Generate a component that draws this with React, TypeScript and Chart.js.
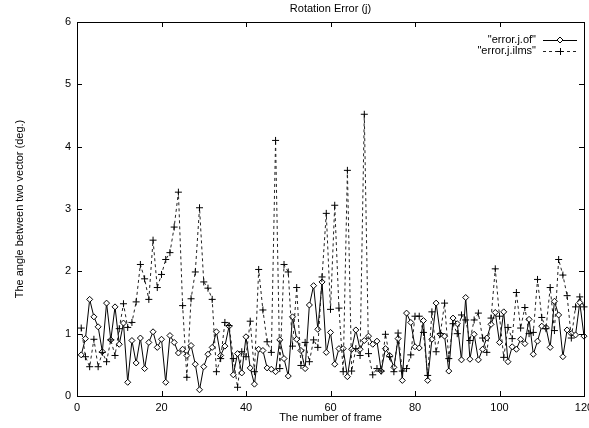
import React, { useEffect, useRef } from "react";
import { Chart, registerables } from "chart.js";

Chart.register(...registerables);

const title = "Rotation Error (j)";
const xTitle = "The number of frame";
const yTitle = "The angle between two vector (deg.)";
const seriesNames = ['"error.j.of"', '"error.j.ilms"'];
const xTicks = [0, 20, 40, 60, 80, 100, 120];
const yTicks = [0, 1, 2, 3, 4, 5, 6];

const errorOf = [
  0.66, 0.92, 1.55, 1.27, 1.11, 0.71, 1.49, 0.90, 1.43, 0.83,
  1.17, 0.22, 0.89, 0.53, 0.93, 0.44, 0.86, 1.03, 0.78, 0.91,
  0.22, 0.97, 0.86, 0.69, 0.75, 0.65, 0.81, 0.51, 0.10, 0.47,
  0.67, 0.78, 1.03, 0.65, 0.80, 1.12, 0.34, 0.68, 0.37, 0.95,
  0.45, 0.19, 0.75, 0.73, 0.45, 0.43, 0.39, 0.90, 0.60, 0.32,
  1.27, 0.91, 0.73, 0.44, 1.46, 1.77, 1.07, 1.83, 0.70, 1.02,
  0.51, 0.76, 0.76, 0.31, 0.75, 1.06, 0.75, 0.89, 0.96, 0.83,
  0.88, 0.40, 0.76, 0.65, 0.46, 0.92, 0.25, 1.33, 1.18, 0.79,
  0.77, 1.21, 0.25, 0.91, 1.49, 0.99, 0.96, 0.40, 1.25, 1.16,
  0.58, 1.58, 0.59, 0.99, 0.58, 0.75, 0.93, 1.15, 1.34, 0.86,
  1.35, 0.55, 0.79, 0.75, 0.91, 0.84, 1.23, 0.67, 0.88, 1.12,
  1.10, 0.78, 1.52, 1.30, 0.63, 1.06, 1.00, 0.98, 1.50, 0.96,
];

const errorIlms = [
  1.09, 0.63, 0.47, 0.91, 0.47, 0.70, 0.55, 0.90, 0.65, 1.08,
  1.48, 1.10, 1.18, 1.51, 2.11, 1.88, 1.55, 2.50, 1.74, 1.95,
  2.19, 2.30, 2.71, 3.27, 1.45, 0.30, 1.56, 1.99, 3.02, 1.83,
  1.73, 1.55, 0.39, 0.60, 1.18, 1.13, 0.60, 0.14, 0.71, 0.63,
  1.20, 0.39, 2.03, 1.38, 0.87, 0.70, 4.10, 0.44, 2.11, 1.99,
  0.80, 1.74, 0.49, 0.86, 0.55, 0.90, 0.78, 1.91, 2.93, 1.39,
  3.06, 1.41, 0.39, 3.62, 0.40, 0.76, 0.65, 4.52, 0.68, 0.34,
  0.44, 0.40, 0.99, 0.63, 0.39, 1.01, 0.40, 0.44, 0.66, 1.28,
  1.28, 1.02, 0.33, 1.35, 0.71, 1.00, 1.49, 0.60, 1.16, 1.00,
  1.30, 1.22, 0.89, 1.22, 1.33, 0.93, 0.70, 1.25, 2.04, 1.28,
  0.62, 1.10, 0.92, 1.66, 1.09, 1.42, 1.00, 1.02, 1.87, 1.26,
  1.08, 1.74, 1.05, 2.19, 1.94, 1.61, 0.93, 1.43, 1.59, 1.43,
];

const frames = errorOf.map((_, i) => i + 1);

const FONT = "11px 'Liberation Sans', Arial, sans-serif";

const decorPlugin = {
  id: "decor",
  afterDraw(chart: any) {
    const { ctx, chartArea, scales } = chart;
    const { left, right, top, bottom } = chartArea;
    const xs = scales.x;
    const ys = scales.y;
    ctx.save();
    ctx.strokeStyle = "#000";
    ctx.lineWidth = 1;
    ctx.setLineDash([]);
    ctx.strokeRect(Math.round(left) + 0.5, Math.round(top) + 0.5, Math.round(right - left), Math.round(bottom - top));
    const tl = 5;
    ctx.beginPath();
    xTicks.forEach((v) => {
      const px = Math.round(xs.getPixelForValue(v)) + 0.5;
      ctx.moveTo(px, bottom);
      ctx.lineTo(px, bottom - tl);
      ctx.moveTo(px, top);
      ctx.lineTo(px, top + tl);
    });
    yTicks.forEach((v) => {
      const py = Math.round(ys.getPixelForValue(v)) + 0.5;
      ctx.moveTo(left, py);
      ctx.lineTo(left + tl, py);
      ctx.moveTo(right, py);
      ctx.lineTo(right - tl, py);
    });
    ctx.stroke();

    ctx.fillStyle = "#000";
    ctx.font = FONT;
    ctx.textBaseline = "middle";
    ctx.textAlign = "center";
    ctx.fillText(title, (left + right) / 2, 9);
    ctx.fillText(xTitle, (left + right) / 2, 418);
    ctx.save();
    ctx.translate(20, (top + bottom) / 2);
    ctx.rotate(-Math.PI / 2);
    ctx.fillText(yTitle, 0, 0);
    ctx.restore();

    // legend
    const textRight = 536;
    const sx0 = 543;
    const sx1 = 577;
    const rows = [40, 51];
    ctx.textAlign = "right";
    seriesNames.forEach((name, i) => {
      const y = rows[i];
      ctx.fillText(name, textRight, y);
      ctx.beginPath();
      ctx.setLineDash(i === 0 ? [] : [3, 3]);
      ctx.strokeStyle = i === 0 ? "#000" : "#222";
      ctx.moveTo(sx0, y + 0.5);
      ctx.lineTo(sx1, y + 0.5);
      ctx.stroke();
      ctx.setLineDash([]);
      const cx = (sx0 + sx1) / 2;
      ctx.beginPath();
      if (i === 0) {
        ctx.fillStyle = "#fff";
        ctx.moveTo(cx, y - 3);
        ctx.lineTo(cx + 3, y);
        ctx.lineTo(cx, y + 3);
        ctx.lineTo(cx - 3, y);
        ctx.closePath();
        ctx.fill();
        ctx.strokeStyle = "#000";
        ctx.stroke();
        ctx.fillStyle = "#000";
      } else {
        ctx.strokeStyle = "#000";
        ctx.moveTo(cx - 3.5, y + 0.5);
        ctx.lineTo(cx + 3.5, y + 0.5);
        ctx.moveTo(cx + 0.5, y - 3);
        ctx.lineTo(cx + 0.5, y + 4);
        ctx.stroke();
      }
    });
    ctx.restore();
  },
};

export default function App() {
  const canvasRef = useRef<HTMLCanvasElement | null>(null);

  useEffect(() => {
    const canvas = canvasRef.current;
    if (!canvas) return;
    const chart = new Chart(canvas, {
      type: "line",
      data: {
        datasets: [
          {
            label: seriesNames[1],
            data: frames.map((f, i) => ({ x: f, y: errorIlms[i] })),
            borderColor: "#222",
            borderWidth: 1,
            borderDash: [3, 3],
            pointStyle: "cross",
            pointRadius: 3.5,
            pointBorderColor: "#000",
            pointBorderWidth: 1,
            pointBackgroundColor: "#000",
            tension: 0,
            clip: false,
          },
          {
            label: seriesNames[0],
            data: frames.map((f, i) => ({ x: f, y: errorOf[i] })),
            borderColor: "#000",
            borderWidth: 1,
            pointStyle: "rectRot",
            pointRadius: 3,
            pointBorderColor: "#000",
            pointBorderWidth: 1,
            pointBackgroundColor: "#fff",
            tension: 0,
            clip: false,
          },
        ],
      },
      options: {
        animation: false,
        responsive: false,
        maintainAspectRatio: false,
        layout: { padding: { top: 22, right: 3, left: 0, bottom: 0 } },
        plugins: {
          legend: { display: false },
          title: { display: false },
          tooltip: { enabled: false },
        },
        scales: {
          x: {
            type: "linear",
            min: 0,
            max: 120,
            grid: { display: false, drawTicks: false },
            border: { display: false },
            ticks: {
              stepSize: 20,
              padding: 5,
              color: "#000",
              maxRotation: 0,
              autoSkip: false,
              font: { family: "'Liberation Sans', Arial, sans-serif", size: 11 },
            },
            afterFit(scale: any) {
              scale.height = 32;
              scale.paddingLeft = 0;
              scale.paddingRight = 0;
            },
          },
          y: {
            type: "linear",
            min: 0,
            max: 6,
            grid: { display: false, drawTicks: false },
            border: { display: false },
            ticks: {
              stepSize: 1,
              padding: 6,
              color: "#000",
              font: { family: "'Liberation Sans', Arial, sans-serif", size: 11 },
            },
            afterFit(scale: any) {
              scale.width = 77;
              scale.paddingTop = 0;
              scale.paddingBottom = 0;
            },
          },
        },
      },
      plugins: [decorPlugin],
    });
    return () => chart.destroy();
  }, []);

  return (
    <div style={{ position: "fixed", left: 0, top: 0, width: 589, height: 428, background: "#fff" }}>
      <canvas ref={canvasRef} width={589} height={428} style={{ width: 589, height: 428, display: "block" }} />
    </div>
  );
}
